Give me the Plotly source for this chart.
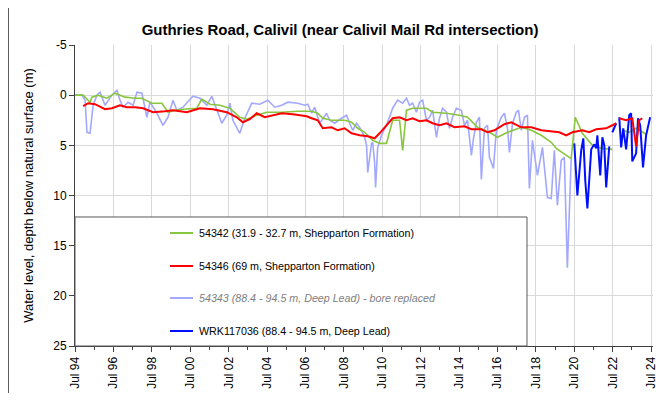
import pandas as pd
import plotly.graph_objects as go

# ---------------- data (decimal years, depth below surface in m) ----------------
green_t = [1994.50, 1994.92, 1995.28, 1995.38, 1995.70, 1996.16, 1996.58, 1997.10, 1997.62, 1997.98,
           1998.50, 1999.02, 1999.34, 1999.70, 2000.12, 2000.84, 2001.10, 2001.52, 2002.04, 2002.56,
           2003.08, 2003.44, 2003.96, 2004.48, 2005.26, 2006.10, 2006.82, 2007.14, 2007.40, 2007.86,
           2008.54, 2008.90, 2009.22, 2009.58, 2010.00, 2010.36, 2010.72, 2011.04, 2011.40, 2011.56,
           2011.76, 2012.08, 2012.80, 2013.12, 2013.84, 2014.52, 2014.94, 2015.46, 2016.18, 2016.50,
           2017.02, 2017.74, 2018.26, 2018.78, 2019.30, 2019.56, 2020.24, 2020.34, 2020.55, 2020.92,
           2021.44, 2021.96, 2022.48, 2022.75, 2023.00, 2023.36, 2023.72, 2024.04, 2024.24]
green_v = [0.0, 0.0, 0.7, 0.2, 0.0, 0.3, -0.2, 0.2, 0.3, 0.3,
           0.8, 0.8, 1.7, 1.5, 1.4, 1.3, 0.4, 0.9, 1.0, 1.3,
           2.2, 2.4, 2.0, 1.7, 1.7, 1.6, 1.6, 1.8, 2.3, 2.5,
           2.5, 2.7, 3.3, 3.7, 4.5, 4.8, 4.8, 2.5, 2.5, 5.5,
           1.5, 1.3, 1.3, 1.7, 1.8, 2.0, 2.2, 3.2, 3.8, 4.2,
           3.7, 3.2, 3.5, 4.0, 4.7, 5.3, 6.2, 6.3, 2.2, 3.8,
           5.0, 5.3, 5.4, None, 3.5, 3.7, 3.3, 3.7, 3.9]

red_t = [1994.92, 1995.18, 1995.54, 1996.06, 1996.42, 1996.84, 1997.20, 1997.62, 1998.04, 1998.56,
         1999.18, 1999.60, 2000.32, 2001.00, 2001.68, 2002.40, 2002.92, 2003.24, 2003.60, 2003.96,
         2004.38, 2004.80, 2005.26, 2005.84, 2006.10, 2006.56, 2006.82, 2007.14, 2007.40, 2007.86,
         2008.18, 2008.54, 2008.90, 2009.32, 2009.74, 2010.10, 2010.36, 2010.72, 2011.04, 2011.40,
         2011.76, 2012.08, 2012.44, 2012.80, 2013.12, 2013.48, 2013.84, 2014.26, 2014.78, 2015.14,
         2015.66, 2015.98, 2016.34, 2016.86, 2017.22, 2017.74, 2018.26, 2018.78, 2019.30, 2019.72,
         2020.08, 2020.40, 2020.92, 2021.28, 2021.64, 2022.16, 2022.48, 2022.68, 2022.76, 2022.84,
         2023.20, 2023.52, 2023.72, 2023.88, 2024.04]
red_v = [1.1, 0.8, 0.9, 1.4, 1.3, 1.0, 1.2, 1.2, 1.3, 1.7,
         1.6, 1.5, 1.7, 1.3, 1.4, 1.7, 2.2, 2.7, 2.4, 1.8,
         2.2, 2.0, 1.8, 1.9, 2.0, 2.1, 2.3, 2.5, 3.3, 3.2,
         3.5, 3.3, 3.8, 4.0, 4.1, 4.3, 3.8, 3.0, 2.3, 2.2,
         2.5, 2.3, 2.6, 2.5, 2.8, 3.0, 2.8, 3.2, 3.1, 3.4,
         3.4, 3.7, 3.5, 2.9, 2.7, 3.2, 3.2, 3.5, 3.6, 3.7,
         4.0, 3.7, 3.5, 3.7, 3.4, 3.3, 3.0, 2.8, None, 2.3,
         2.5, 2.3, 5.1, 2.5, 2.3]

lblue_t = [1994.50, 1994.86, 1995.02, 1995.12, 1995.28, 1995.44, 1995.64, 1995.80, 1996.06, 1996.42,
           1996.68, 1996.84, 1997.00, 1997.26, 1997.52, 1997.72, 1997.98, 1998.24, 1998.40, 1998.76,
           1999.08, 1999.34, 1999.60, 1999.80, 2000.12, 2000.64, 2001.00, 2001.36, 2001.62, 2001.88,
           2002.14, 2002.40, 2002.56, 2002.72, 2003.08, 2003.34, 2003.70, 2004.12, 2004.54, 2004.90,
           2005.26, 2005.58, 2006.10, 2006.46, 2006.62, 2006.82, 2006.98, 2007.24, 2007.60, 2007.76,
           2008.02, 2008.38, 2008.64, 2008.80, 2008.96, 2009.16, 2009.42, 2009.58, 2009.68, 2009.74,
           2009.94, 2010.00, 2010.10, 2010.15, 2010.26, 2010.46, 2010.78, 2011.04, 2011.30, 2011.56,
           2011.76, 2011.92, 2012.08, 2012.28, 2012.44, 2012.60, 2012.80, 2012.96, 2013.12, 2013.32,
           2013.48, 2013.64, 2013.84, 2014.00, 2014.16, 2014.36, 2014.62, 2014.78, 2014.94, 2015.14,
           2015.25, 2015.40, 2015.56, 2015.66, 2015.82, 2015.98, 2016.08, 2016.18, 2016.29, 2016.44,
           2016.70, 2016.86, 2017.02, 2017.12, 2017.28, 2017.48, 2017.59, 2017.74, 2017.90, 2018.06,
           2018.16, 2018.32, 2018.58, 2018.84, 2019.10, 2019.30, 2019.46, 2019.62, 2019.82, 2019.98,
           2020.14, 2020.34]
lblue_v = [0.0, 0.0, 0.5, 3.7, 3.8, 1.0, 0.0, -0.3, 1.0, 0.0,
           -0.5, 0.5, 1.2, 0.7, 1.0, -0.3, -0.2, 2.2, 0.7, 1.8,
           3.0, 2.2, 0.5, 1.5, 1.2, 0.1, 0.3, 1.0, 0.1, 1.5,
           2.8, 2.0, 0.8, 2.5, 3.8, 2.3, 0.8, 0.9, 0.5, 1.2,
           1.0, 0.7, 0.8, 1.0, 0.9, 1.8, 1.2, 2.8, 1.8, 2.5,
           2.8, 2.3, 2.0, 2.8, 3.5, 2.8, 3.5, 4.2, 5.0, 7.7,
           4.8, 4.7, 6.7, 9.2, 5.2, 4.0, 2.7, 1.3, 0.5, 0.8,
           0.3, 1.0, 0.8, 1.7, 0.7, 0.5, 2.5, 2.2, 1.5, 4.2,
           2.3, 1.3, 1.7, 3.3, 2.2, 1.3, 1.5, 3.0, 2.5, 6.0,
           4.3, 2.7, 2.2, 8.4, 3.3, 3.0, 6.2, 6.7, 7.3, 3.5,
           2.2, 1.8, 3.3, 5.7, 2.8, 1.7, 1.5, 3.5, 2.2, 2.0,
           9.3, 4.5, 8.0, 5.2, 10.2, 10.3, 5.5, 11.0, 6.5, 6.2,
           17.2, 6.3]

dblue_t = [2020.50, 2020.66, 2020.86, 2020.97, 2021.07, 2021.18, 2021.38, 2021.54, 2021.64, 2021.70,
           2021.85, 2021.96, 2022.06, 2022.16, 2022.32, 2022.40, 2022.48, 2022.68, 2022.76, 2022.84,
           2022.94, 2023.05, 2023.20, 2023.36, 2023.46, 2023.52, 2023.72, 2023.82, 2023.93, 2024.08,
           2024.24, 2024.45]
dblue_v = [4.8, 10.0, 5.5, 4.3, 8.5, 11.3, 5.4, 4.9, 5.3, 4.0,
           8.0, 4.2, 5.0, 9.2, 5.1, None, 3.7, 2.8, None, 2.2,
           5.2, 3.3, 5.4, 2.0, 1.8, 6.6, 5.8, 2.3, 3.0, 7.2,
           4.0, 2.2]

y_tick_vals = [-5, 0, 5, 10, 15, 20, 25]
y_tick_text = ["-5", "0", "5", "10", "15", "20", "25"]

series_names = ["54342 (31.9 - 32.7 m, Shepparton Formation)",
                "54346 (69 m, Shepparton Formation)",
                "54343 (88.4 - 94.5 m, Deep Lead) - bore replaced",
                "WRK117036 (88.4 - 94.5 m, Deep Lead)"]
title_text = "Guthries Road, Calivil (near Calivil Mail Rd intersection)"
y_title = "Water level, depth below natural surface (m)"


def to_dates(ts):
    out = []
    for t in ts:
        y = int(t)
        out.append(pd.Timestamp(year=y, month=1, day=1) + pd.Timedelta(days=(t - y) * 365.25))
    return out


C_GREEN = "#88c63f"
C_RED = "#ff0000"
C_LBLUE = "#a3a8ff"
C_DBLUE = "#0010ff"
FONT = "Liberation Sans, Arial, sans-serif"

fig = go.Figure()
fig.add_trace(go.Scatter(x=to_dates(lblue_t), y=lblue_v, mode="lines", name=series_names[2],
                         line=dict(color=C_LBLUE, width=1.6)))
fig.add_trace(go.Scatter(x=to_dates(green_t), y=green_v, mode="lines", name=series_names[0],
                         line=dict(color=C_GREEN, width=1.6)))
fig.add_trace(go.Scatter(x=to_dates(dblue_t), y=dblue_v, mode="lines", name=series_names[3],
                         line=dict(color=C_DBLUE, width=2)))
fig.add_trace(go.Scatter(x=to_dates(red_t), y=red_v, mode="lines", name=series_names[1],
                         line=dict(color=C_RED, width=2)))

# custom legend box
shapes = [dict(type="rect", xref="paper", yref="paper", x0=0, x1=0.782, y0=0, y1=0.4286,
               fillcolor="white", line=dict(color="#595959", width=1), layer="above"),
          # chart-area frame edge on the left
          dict(type="line", xref="paper", yref="paper", x0=-0.1151, x1=-0.1151, y0=-0.2, y1=1.2,
               line=dict(color="#595959", width=1), layer="above")]
annotations = []
leg_y = [0.3754, 0.2658, 0.1595, 0.0498]
leg_colors = [C_GREEN, C_RED, C_LBLUE, C_DBLUE]
for i in range(4):
    shapes.append(dict(type="line", xref="paper", yref="paper", x0=0.1644, x1=0.2042,
                       y0=leg_y[i], y1=leg_y[i], line=dict(color=leg_colors[i], width=2), layer="above"))
    italic = i == 2
    annotations.append(dict(xref="paper", yref="paper", x=0.211, y=leg_y[i], xanchor="left",
                            yanchor="middle", showarrow=False,
                            text=("<i>%s</i>" % series_names[i]) if italic else series_names[i],
                            font=dict(family=FONT, size=10.7, color="#808080" if italic else "#000000")))

# page body has an 8px margin, so the figure is sized/offset to compensate
fig.update_layout(
    width=651, height=385,
    margin=dict(l=67, r=6, t=37, b=47, autoexpand=False),
    paper_bgcolor="white", plot_bgcolor="white",
    showlegend=False,
    font=dict(family=FONT, size=12, color="black"),
    title=dict(text="<b>%s</b>" % title_text, x=0.51, xref="container", xanchor="center",
               y=0.944, yref="container", yanchor="middle",
               font=dict(family=FONT, size=15, color="black")),
    shapes=shapes, annotations=annotations,
)
fig.update_xaxes(
    type="date", range=["1994-07-01", "2024-08-07"], automargin=False,
    tick0="1994-07-01", dtick="M24", tickformat="%b %y", tickangle=-90,
    showgrid=True, gridcolor="#d9d9d9", gridwidth=1,
    showline=True, linecolor="#404040", linewidth=1,
    ticks="outside", ticklen=5, tickcolor="#404040",
    minor=dict(dtick="M12", tick0="1994-07-01", ticks="outside", ticklen=3, tickcolor="#404040", showgrid=False),
    tickfont=dict(family=FONT, size=12, color="black"),
    zeroline=False,
)
fig.update_yaxes(
    range=[25, -5], tickmode="array", tickvals=y_tick_vals, ticktext=y_tick_text, automargin=False,
    showgrid=True, gridcolor="#d9d9d9", gridwidth=1,
    showline=True, linecolor="#404040", linewidth=1,
    ticks="outside", ticklen=5, tickcolor="#404040",
    tickfont=dict(family=FONT, size=12, color="black"),
    title=dict(text=y_title, font=dict(family=FONT, size=13, color="black"), standoff=16),
    zeroline=False,
)

fig.write_html("out.html")
